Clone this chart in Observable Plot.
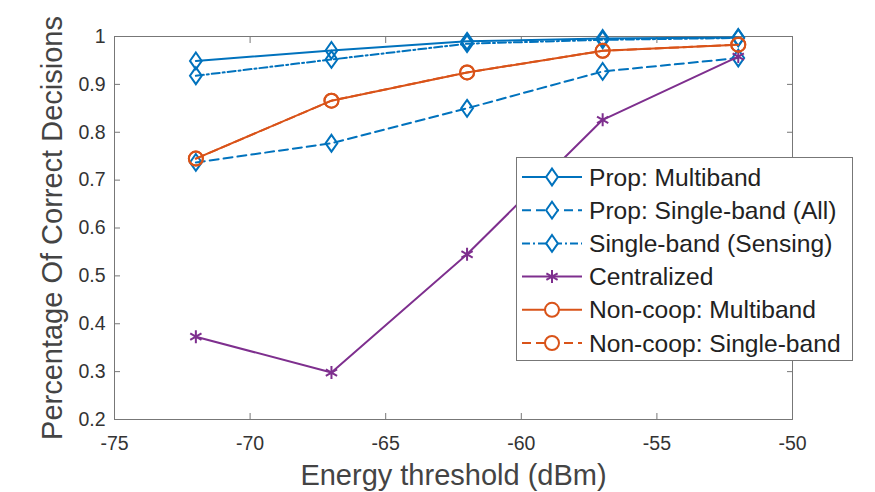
<!DOCTYPE html>
<html>
<head>
<meta charset="utf-8">
<script src="https://cdn.jsdelivr.net/npm/d3@7"></script>
<script src="https://cdn.jsdelivr.net/npm/@observablehq/plot@0.6"></script>
<style>
  html, body { margin: 0; padding: 0; background: #fff; }
  #chart { position: relative; width: 875px; height: 492px; font-family: "Liberation Sans", Arial, Helvetica, sans-serif; }
  #chart svg { display: block; }
  #legend { position: absolute; left: 0; top: 0; pointer-events: none; }
</style>
</head>
<body>
<div id="chart"></div>
<script>
// Energy detection thresholds (dBm)
const thresholds = [-72, -67, -62, -57, -52];

// Fraction of correct decisions for each scheme
const propMultiband      = [0.949, 0.971, 0.990, 0.996, 0.998];
const propSingleAll      = [0.737, 0.777, 0.850, 0.927, 0.955];
const singleSensing      = [0.918, 0.952, 0.985, 0.993, 0.997];
const centralized        = [0.373, 0.298, 0.545, 0.826, 0.958];
const noncoopMultiband   = [0.745, 0.866, 0.925, 0.970, 0.983];
const noncoopSingleband  = [0.745, 0.866, 0.925, 0.970, 0.983];

const seriesNames = [
  "Prop: Multiband",
  "Prop: Single-band (All)",
  "Single-band (Sensing)",
  "Centralized",
  "Non-coop: Multiband",
  "Non-coop: Single-band"
];

const xTicks = [-75, -70, -65, -60, -55, -50];
const yTicks = [0.2, 0.3, 0.4, 0.5, 0.6, 0.7, 0.8, 0.9, 1];
const xLabel = "Energy threshold (dBm)";
const yLabel = "Percentage Of Correct Decisions";

const blue = "#0072BD", purple = "#7E2F8E", orange = "#D95319";
const axisGray = "#777";
const textGray = "#333";
const font = '"Liberation Sans", Arial, Helvetica, sans-serif';

// Marker shapes: narrow diamond and six-armed asterisk
const diamondMark = {
  draw(ctx, size) {
    const r = Math.sqrt(size / Math.PI), w = r * 0.7;
    ctx.moveTo(0, -r); ctx.lineTo(w, 0); ctx.lineTo(0, r); ctx.lineTo(-w, 0); ctx.closePath();
  }
};
const asteriskMark = {
  draw(ctx, size) {
    const r = Math.sqrt(size / Math.PI);
    for (const a of [90, 30, -30]) {
      const t = a * Math.PI / 180, dx = r * Math.cos(t), dy = r * Math.sin(t);
      ctx.moveTo(-dx, -dy); ctx.lineTo(dx, dy);
    }
  }
};
const circleMark = "circle";

const styles = [
  {values: propMultiband,     color: blue,   dash: null,      symbol: diamondMark,  r: 8.4},
  {values: propSingleAll,     color: blue,   dash: "9,5",     symbol: diamondMark,  r: 8.4},
  {values: singleSensing,     color: blue,   dash: "8,3,2,3", symbol: diamondMark,  r: 8.4},
  {values: centralized,       color: purple, dash: null,      symbol: asteriskMark, r: 6.5},
  {values: noncoopMultiband,  color: orange, dash: null,      symbol: circleMark,   r: 7},
  {values: noncoopSingleband, color: orange, dash: "9,5",     symbol: circleMark,   r: 7}
];

const seriesMarks = styles.flatMap((s, i) => {
  const rows = thresholds.map((t, j) => ({t, v: s.values[j], name: seriesNames[i]}));
  return [
    Plot.line(rows, {x: "t", y: "v", stroke: s.color, strokeWidth: 2, strokeDasharray: s.dash, strokeLinejoin: "round"}),
    Plot.dot(rows, {x: "t", y: "v", stroke: s.color, strokeWidth: 2, fill: "none", symbol: s.symbol, r: s.r})
  ];
});

const chart = Plot.plot({
  width: 875,
  height: 492,
  marginLeft: 114,
  marginRight: 83,
  marginTop: 36,
  marginBottom: 73,
  style: {fontFamily: font, background: "#fff", color: textGray},
  x: {domain: [-75, -50]},
  y: {domain: [0.2, 1]},
  marks: [
    Plot.frame({stroke: axisGray, strokeWidth: 1}),
    Plot.axisX(xTicks, {anchor: "bottom", tickSize: -6, tickPadding: 23, tickFormat: d => String(d),
      fontSize: 19.5, fill: textGray, stroke: axisGray, label: null}),
    Plot.axisX(xTicks, {anchor: "top", tickSize: -6, tickFormat: () => "", stroke: axisGray, label: null}),
    Plot.axisY(yTicks, {anchor: "left", tickSize: -6, tickPadding: 15, tickFormat: d => String(d),
      fontSize: 19.5, fill: textGray, stroke: axisGray, label: null}),
    Plot.axisY(yTicks, {anchor: "right", tickSize: -6, tickFormat: () => "", stroke: axisGray, label: null}),
    Plot.text([xLabel], {frameAnchor: "bottom", dy: 56, textAnchor: "middle", lineAnchor: "middle", fontSize: 29, fill: "#444"}),
    Plot.text([yLabel], {frameAnchor: "left", dx: -62, rotate: -90, textAnchor: "middle", lineAnchor: "middle", fontSize: 29, fill: "#444"}),
    ...seriesMarks
  ]
});

const root = document.getElementById("chart");
root.appendChild(chart);

// Legend box in the lower right of the axes
const legend = d3.select(root).append("svg")
  .attr("id", "legend")
  .attr("width", 875).attr("height", 492)
  .style("font-family", font);

const box = {x: 516, y: 157, w: 336, h: 203};
legend.append("rect")
  .attr("x", box.x + 0.5).attr("y", box.y + 0.5)
  .attr("width", box.w).attr("height", box.h)
  .attr("fill", "#fff").attr("stroke", axisGray).attr("stroke-width", 1);

const rowY0 = 177, rowStep = 33.2;
styles.forEach((s, i) => {
  const y = rowY0 + i * rowStep;
  const g = legend.append("g");
  g.append("line")
    .attr("x1", 522).attr("x2", 582).attr("y1", y).attr("y2", y)
    .attr("stroke", s.color).attr("stroke-width", 2)
    .attr("stroke-dasharray", s.dash);
  const sym = typeof s.symbol === "string" ? d3.symbolCircle : s.symbol;
  g.append("path")
    .attr("transform", `translate(552,${y})`)
    .attr("d", d3.symbol(sym, s.r * s.r * Math.PI)())
    .attr("fill", "#fff").attr("stroke", s.color).attr("stroke-width", 2);
  g.append("text")
    .attr("x", 589).attr("y", y).attr("dy", "0.35em")
    .attr("font-size", 24.6).attr("fill", "#222")
    .text(seriesNames[i]);
});
</script>
</body>
</html>
